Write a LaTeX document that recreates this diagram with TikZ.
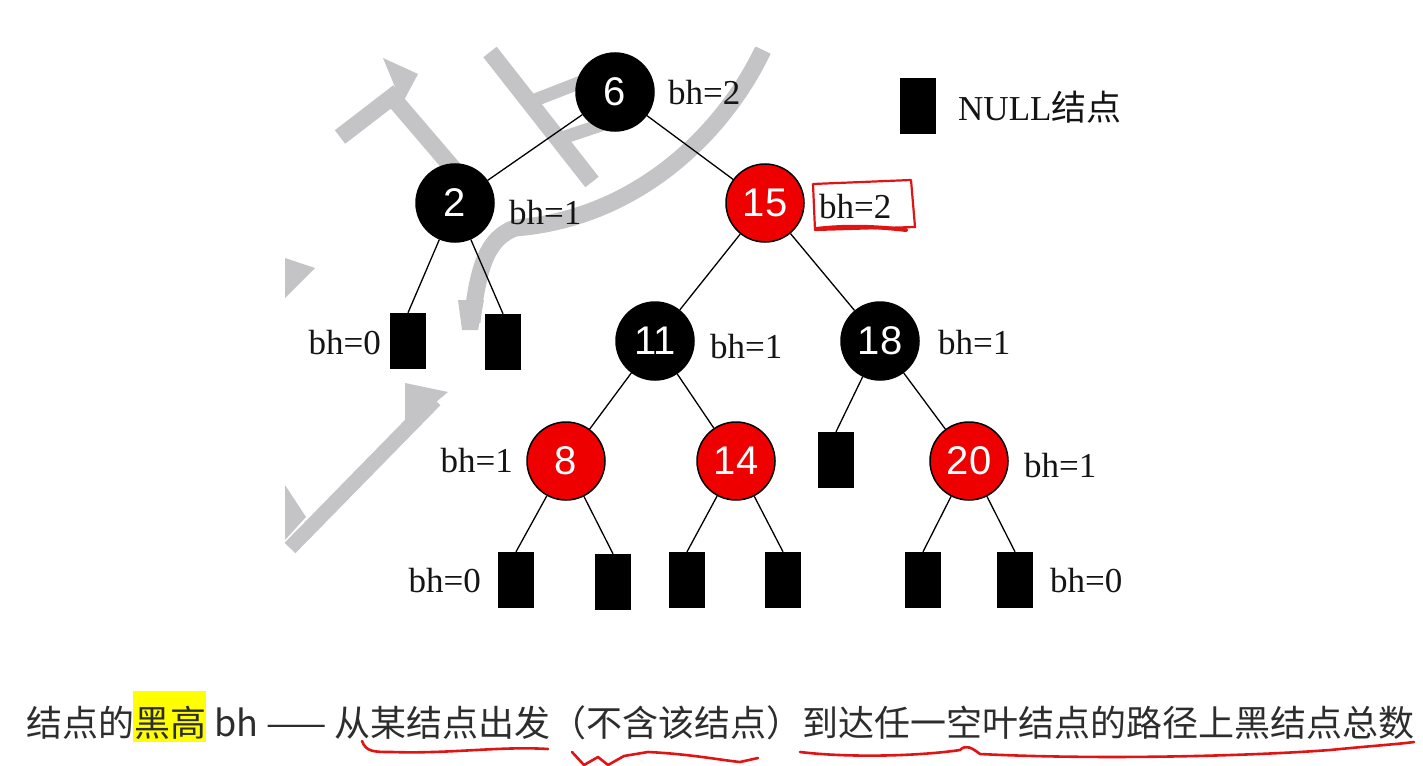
\documentclass[tikz,border=0pt]{standalone}
\usepackage{fontspec}
\setmainfont{Liberation Serif}
\newfontfamily\numfont{Liberation Sans}
\newfontfamily\cjk{Noto Sans CJK SC}
\begin{document}
\begin{tikzpicture}[x=1pt,y=-1pt,
 rbnode/.style={circle, draw=black, line width=1.5pt, minimum size=78pt, inner sep=0pt, font=\numfont\fontsize{40}{40}\selectfont, text=white},
 blk/.style={rbnode, fill=black},
 rd/.style={rbnode, fill=redfill},
 nil/.style={rectangle, fill=black, minimum width=36pt, minimum height=56pt, inner sep=0pt},
 lbl/.style={font=\fontsize{35}{35}\selectfont, inner sep=0pt, text=labeltext},
 link/.style={line width=1.3pt, black},
 wm/.style={line width=17pt, color=wmgrey},
 hand/.style={draw=handred, line width=2.6pt, line cap=round, line join=round}
]
\definecolor{redfill}{RGB}{238,0,0}
\definecolor{wmgrey}{RGB}{196,196,198}
\definecolor{handred}{RGB}{225,20,20}
\definecolor{hl}{RGB}{255,255,0}
\definecolor{labeltext}{RGB}{20,20,20}
\definecolor{sentence}{RGB}{45,45,45}
\useasboundingbox (0,0) rectangle (1423,765);
\fill[white] (0,0) rectangle (1423,765);

% watermark strokes
\begin{scope}
\clip (285,48) rectangle (960,610);
\draw[wm] (340,137) -- (392,97) -- (463,180);
\fill[wmgrey] (383,58) -- (418,74) -- (402,104) -- cycle;
\draw[wm] (490,52) -- (592,182);
\draw[wm, line width=13pt] (535,100) -- (612,70);
\draw[wm, line width=13pt] (556,140) -- (622,118);
\draw[wm] (763,50) .. controls (725,130) and (640,218) .. (515,228)
      .. controls (488,238) and (478,265) .. (472,322);
\fill[wmgrey] (458,300) -- (484,300) -- (478,330) -- (462,330) -- cycle;
\fill[wmgrey] (285,258) -- (315,268) -- (285,298) -- cycle;
\draw[wm, line width=15pt] (435,400) -- (290,548);
\fill[wmgrey] (405,383) -- (448,392) -- (405,428) -- cycle;
\fill[wmgrey] (285,485) -- (306,517) -- (285,540) -- cycle;
\end{scope}

% tree nodes
\node[blk] (n6) at (615,92) {6};
\node[blk] (n2) at (455,203) {2};
\node[rd] (n15) at (765,203) {15};
\node[blk] (n11) at (655,341) {11};
\node[blk] (n18) at (880,341) {18};
\node[rd] (n8) at (566,461) {8};
\node[rd] (n14) at (736,461) {14};
\node[rd] (n20) at (969,461) {20};

\node[nil] (a1) at (408,341) {};
\node[nil] (a2) at (503,342) {};
\node[nil] (a3) at (836,460) {};
\node[nil] (b1) at (516,580) {};
\node[nil] (b2) at (613,582) {};
\node[nil] (b3) at (687,580) {};
\node[nil] (b4) at (783,580) {};
\node[nil] (b5) at (923,580) {};
\node[nil] (b6) at (1015,580) {};
\node[nil] (leg) at (918,106) {};

% connectors
\draw[link] (n6) -- (n2);
\draw[link] (n6) -- (n15);
\draw[link] (n2) -- (a1.north);
\draw[link] (n2) -- (a2.north);
\draw[link] (n15) -- (n11);
\draw[link] (n15) -- (n18);
\draw[link] (n11) -- (n8);
\draw[link] (n11) -- (n14);
\draw[link] (n18) -- (a3.north);
\draw[link] (n18) -- (n20);
\draw[link] (n8) -- (b1.north);
\draw[link] (n8) -- (b2.north);
\draw[link] (n14) -- (b3.north);
\draw[link] (n14) -- (b4.north);
\draw[link] (n20) -- (b5.north);
\draw[link] (n20) -- (b6.north);

% labels
\node[lbl, anchor=west] (l6) at (668,93) {bh=2};
\node[lbl, anchor=west] (l2) at (509,213) {bh=1};
\node[lbl, anchor=west] (l15) at (819,207) {bh=2};
\node[lbl, anchor=west] (l11) at (710,347) {bh=1};
\node[lbl, anchor=west] (l18) at (938,343) {bh=1};
\node[lbl, anchor=east] (l8) at (513,461) {bh=1};
\node[lbl, anchor=west] (l20) at (1024,466) {bh=1};
\node[lbl, anchor=east] (la1) at (381,343) {bh=0};
\node[lbl, anchor=east] (lb1) at (481,581) {bh=0};
\node[lbl, anchor=west] (lb6) at (1050,581) {bh=0};
\node[lbl, anchor=west] (legt) at (958,107) {NULL{\cjk 结点}};

% hand annotation around bh=2
\draw[hand, line width=2.2pt] (813,184) -- (911,180) -- (915,227) -- (815,230) -- cycle;
\draw[hand, line width=4pt] (816,229) .. controls (850,225) and (880,227) .. (906,230);

% bottom sentence
\fill[hl] (133,691) rectangle (206,742);
\node[anchor=base west, inner sep=0pt, text=sentence, font=\cjk\fontsize{36}{36}\selectfont] (txt) at (26,736)
  {结点的黑高 bh —— 从某结点出发（不含该结点）到达任一空叶结点的路径上黑结点总数};

% red hand underlines
\draw[hand] (362,741) .. controls (366,752) and (374,752) .. (392,752)
   .. controls (450,754) and (500,746) .. (548,749);
\draw[hand] (572,752) -- (584,765) -- (598,757) -- (608,765) -- (624,756) -- (648,752)
   .. controls (690,754) and (720,760) .. (740,762) -- (758,758);
\draw[hand] (800,752) .. controls (850,758) and (920,756) .. (960,750)
   .. controls (966,744) and (972,748) .. (980,754)
   .. controls (1100,760) and (1250,756) .. (1330,750)
   .. controls (1370,746) and (1400,744) .. (1414,742);
\end{tikzpicture}
\end{document}
